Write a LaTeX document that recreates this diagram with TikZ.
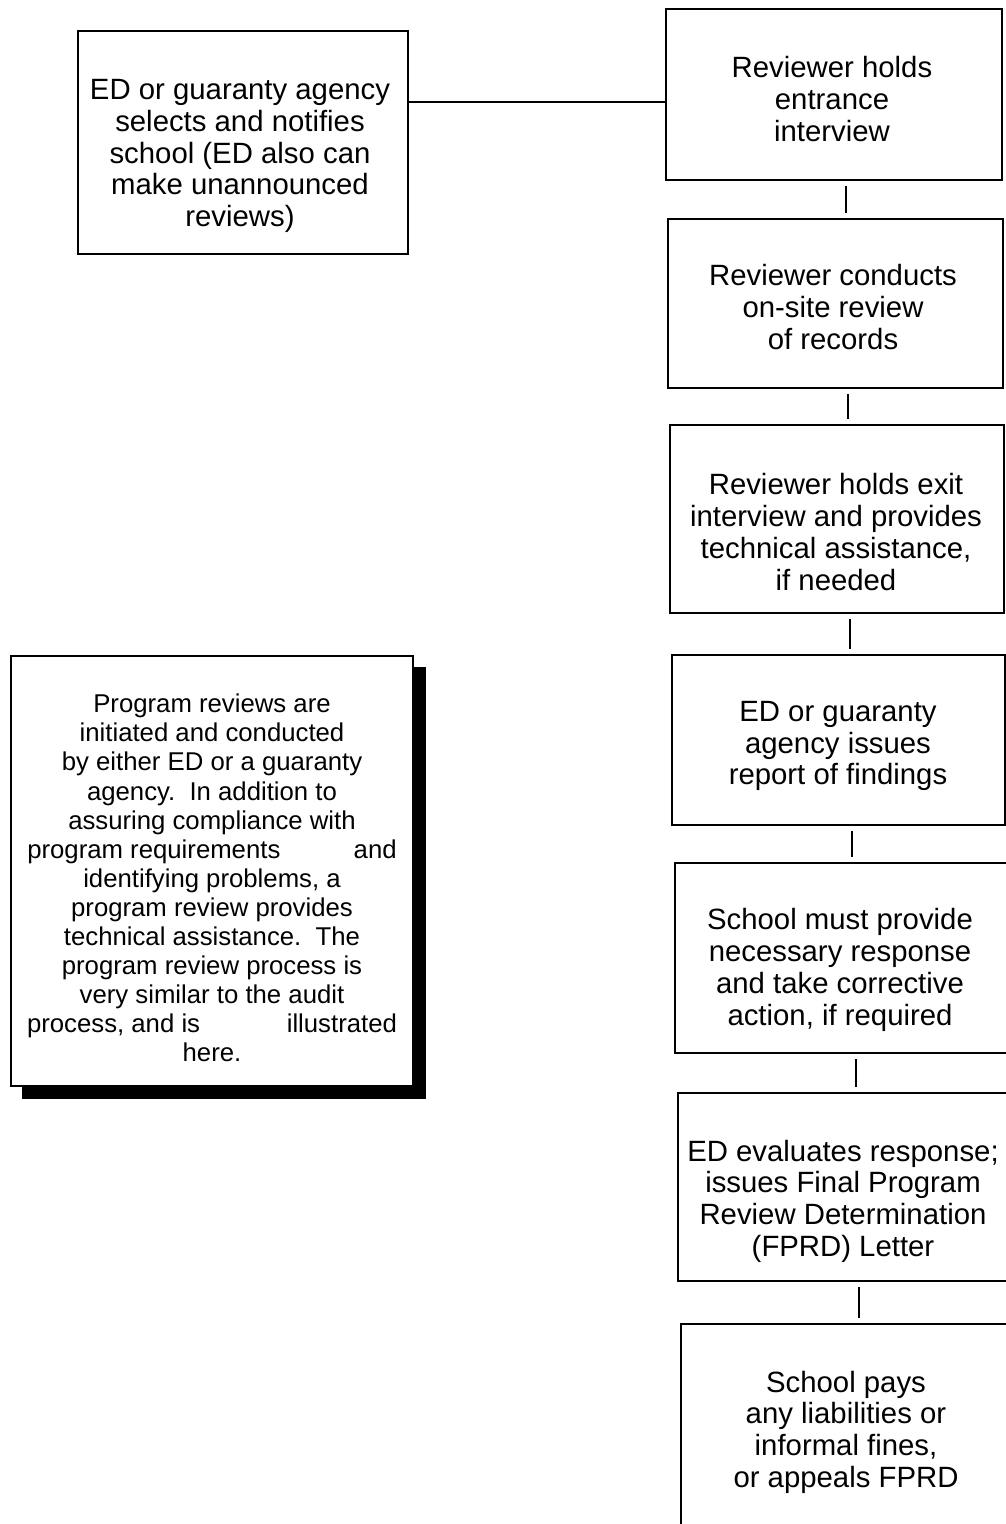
\documentclass[tikz,border=0pt]{standalone}
\usepackage{fontspec}
\setmainfont{Liberation Sans}
\def\pxu{0.75pt}
\begin{document}
\begin{tikzpicture}[x=0.75pt,y=-0.75pt,
  box/.style={draw, line width=1.6pt, inner sep=0pt, anchor=north west},
  btxt/.style={align=center, font=\fontsize{22}{23.8}\selectfont, inner sep=0pt},
  ntxt/.style={align=center, font=\fontsize{19.3}{21.8}\selectfont, inner sep=0pt},
  link/.style={line width=1.3pt, shorten <=3.5pt, shorten >=3.5pt}]
\useasboundingbox (0,0) rectangle (1006,1524);
\clip (0,0) rectangle (1006,1524);

% left top box
\node[box, minimum width=330*\pxu, minimum height=223*\pxu] (sel) at (77,30) {};
\node[btxt] (tsel) at (240,156) {ED or guaranty agency\\selects and notifies\\school (ED also can\\make unannounced\\reviews)};

% right column
\node[box, minimum width=336*\pxu, minimum height=171*\pxu] (b1) at (665,8) {};
\node[btxt] (t1) at (832,99) {Reviewer holds\\entrance\\interview};

\node[box, minimum width=335*\pxu, minimum height=169*\pxu] (b2) at (667,218) {};
\node[btxt] (t2) at (833,307) {Reviewer conducts\\on-site review\\of records};

\node[box, minimum width=334*\pxu, minimum height=188*\pxu] (b3) at (669,424) {};
\node[btxt] (t3) at (836,532) {Reviewer holds exit\\interview and provides\\technical assistance,\\if needed};

\node[box, minimum width=333*\pxu, minimum height=170*\pxu] (b4) at (671,654) {};
\node[btxt] (t4) at (838,746) {ED or guaranty\\agency issues\\report of findings};

\node[box, minimum width=360*\pxu, minimum height=190*\pxu] (b5) at (674,862) {};
\node[btxt] (t5) at (840,970) {School must provide\\necessary response\\and take corrective\\action, if required};

\node[box, minimum width=360*\pxu, minimum height=188*\pxu] (b6) at (677,1092) {};
\node[btxt] (t6) at (843,1201) {ED evaluates response;\\issues Final Program\\Review Determination\\(FPRD) Letter};

\node[box, minimum width=360*\pxu, minimum height=240*\pxu] (b7) at (680,1323) {};
\node[btxt] (t7) at (846,1432) {School pays\\any liabilities or\\informal fines,\\or appeals FPRD};

% connectors
\draw[line width=1.3pt] (sel.east |- 0,102) -- (b1.west |- 0,102);
\draw[link] (b1.south -| 846,0) -- (b2.north -| 846,0);
\draw[link] (b2.south -| 848,0) -- (b3.north -| 848,0);
\draw[link] (b3.south -| 850,0) -- (b4.north -| 850,0);
\draw[link] (b4.south -| 852,0) -- (b5.north -| 852,0);
\draw[link] (b5.south -| 856,0) -- (b6.north -| 856,0);
\draw[link] (b6.south -| 859,0) -- (b7.north -| 859,0);

% note with shadow
\node[box, fill=black, minimum width=402*\pxu, minimum height=430*\pxu] (noteshadow) at (22,667) {};
\node[box, fill=white, minimum width=402*\pxu, minimum height=430*\pxu] (note) at (10,655) {};
\node[ntxt] (tnote) at (212,878) {Program reviews are\\initiated and conducted\\by either ED or a guaranty\\agency.\ \ In addition to\\assuring compliance with\\program requirements\hspace{55pt}and\\identifying problems, a\\program review provides\\technical assistance.\ \ The\\program review process is\\very similar to the audit\\process, and is\hspace{65pt}illustrated\\here.};
\end{tikzpicture}
\end{document}
